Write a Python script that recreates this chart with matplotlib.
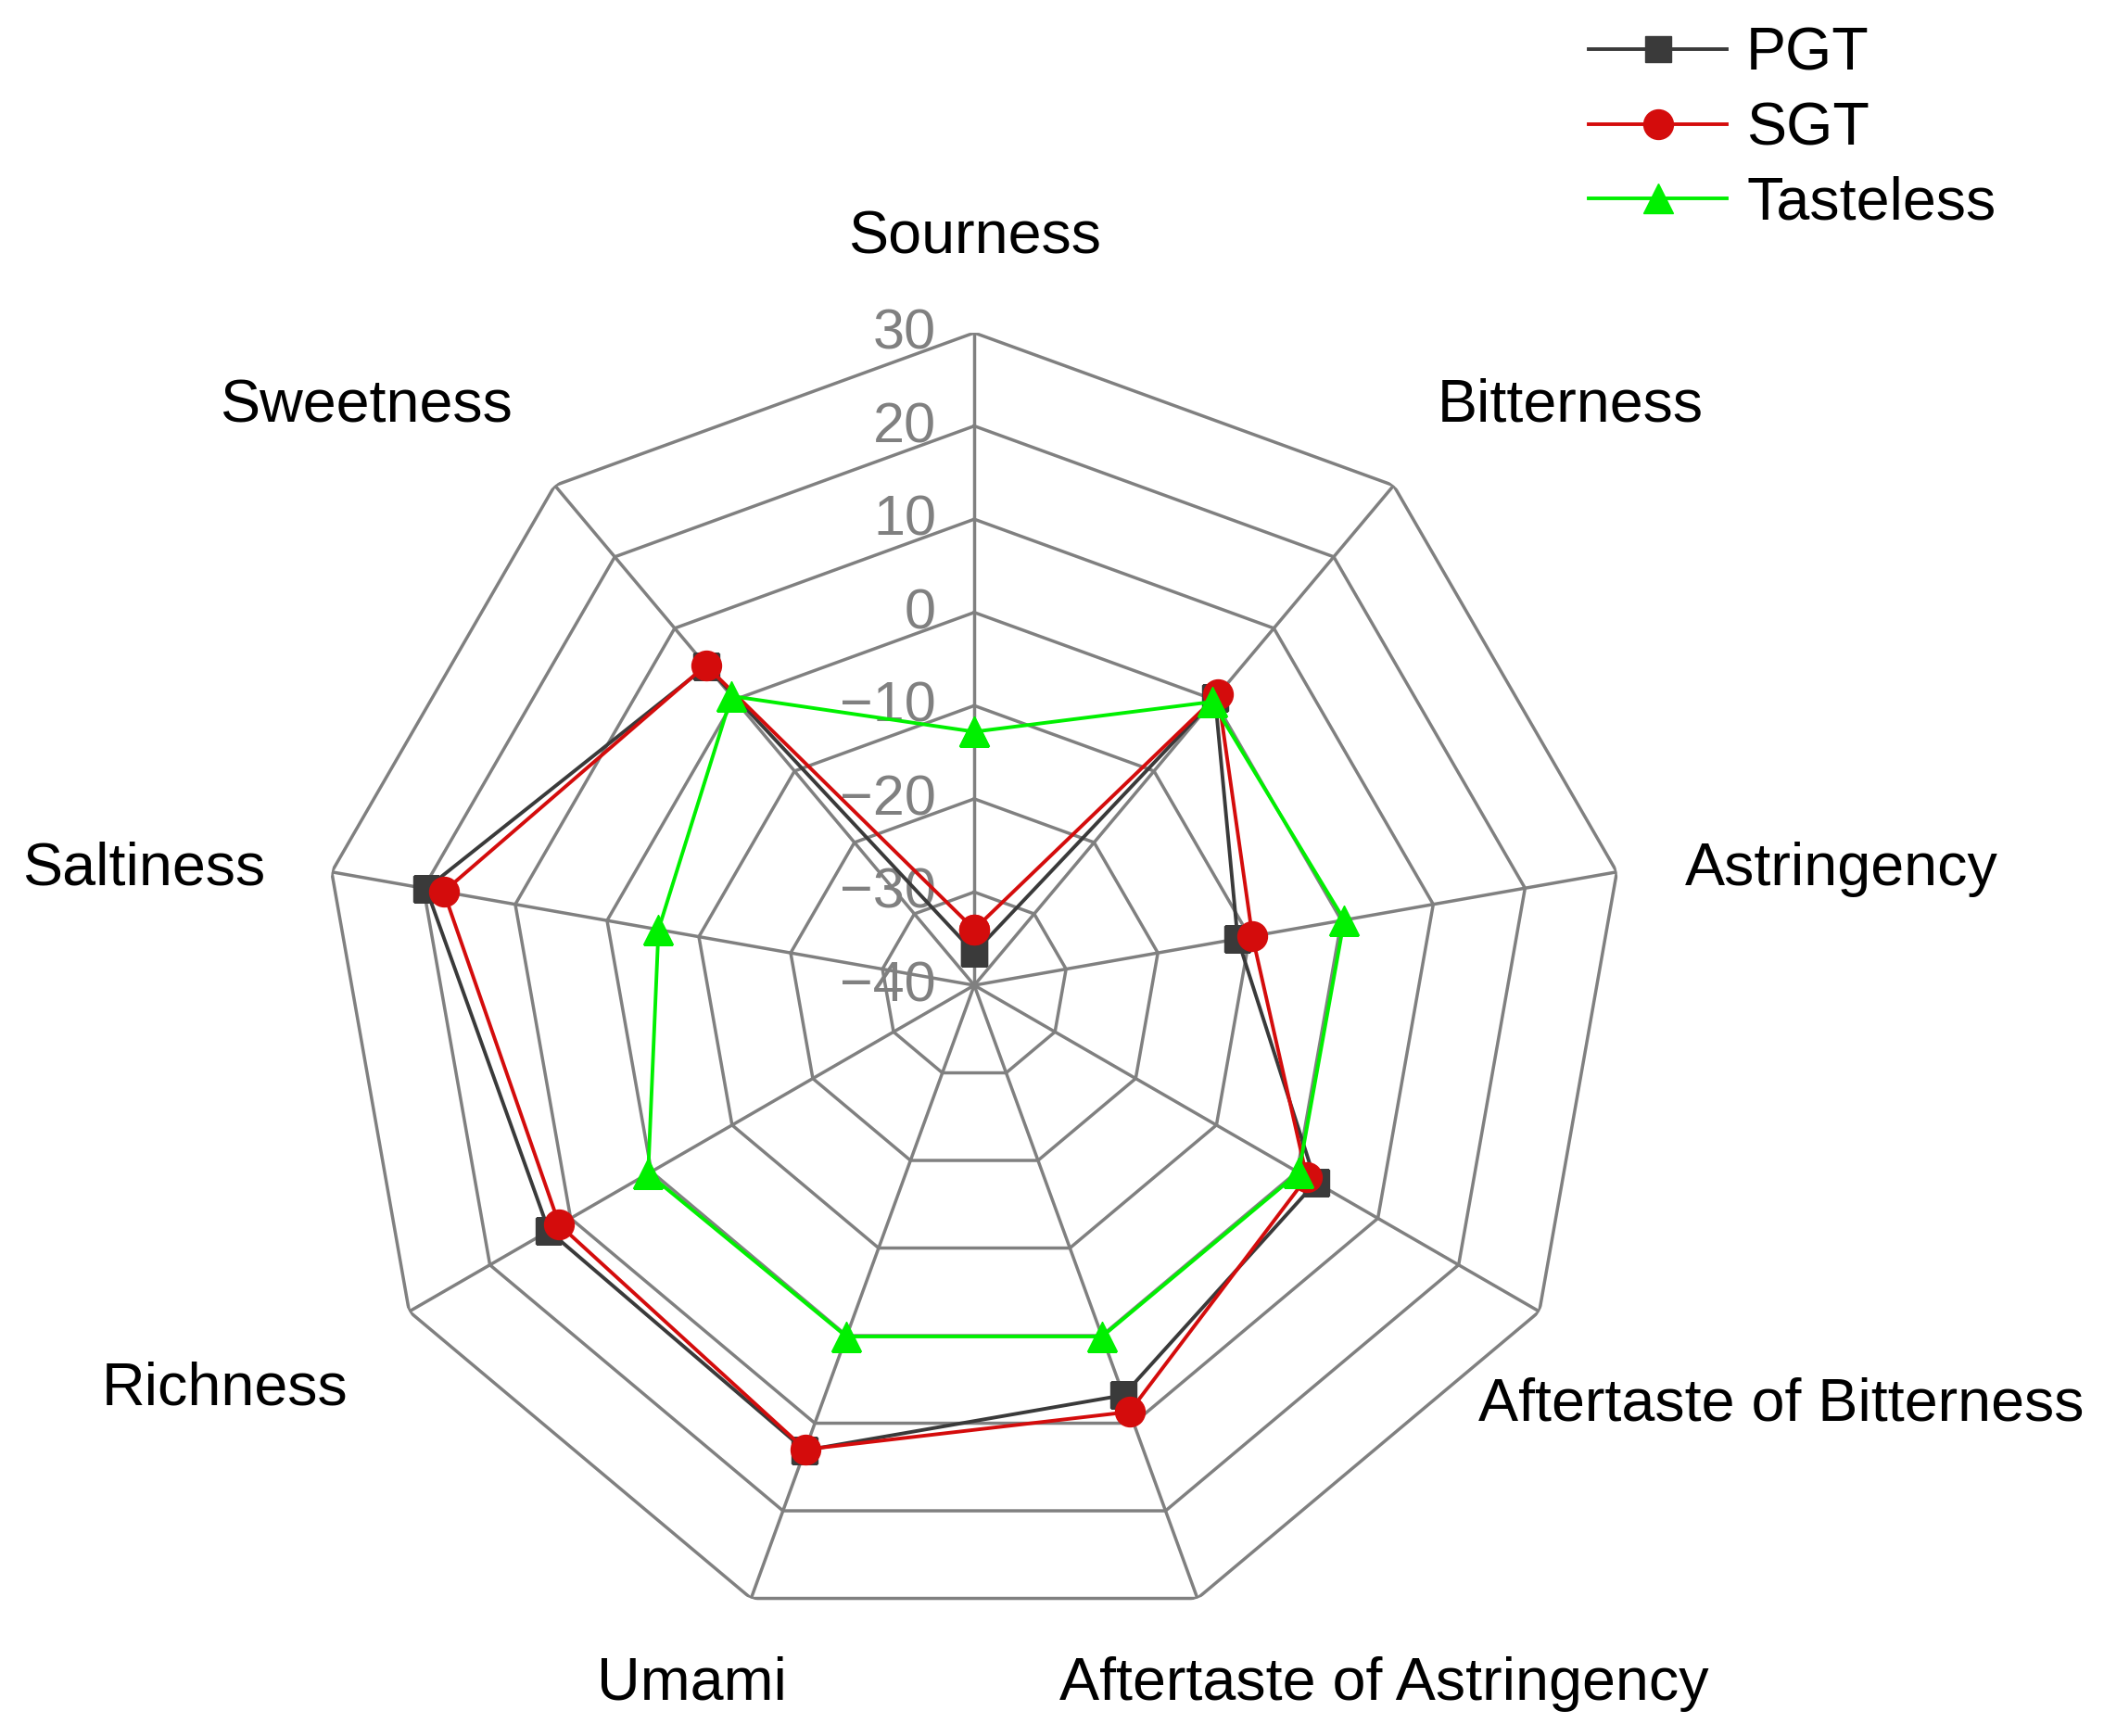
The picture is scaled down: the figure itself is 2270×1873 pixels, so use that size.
import numpy as np
import matplotlib.pyplot as plt
from matplotlib.transforms import ScaledTranslation

# taste attributes, clockwise from the top
categories = ['Sourness', 'Bitterness', 'Astringency', 'Aftertaste of Bitterness',
              'Aftertaste of Astringency', 'Umami', 'Richness', 'Saltiness', 'Sweetness']
pgt = [-36.5, 0.2, -11.3, 2.3, 6.8, 13.1, 12.7, 19.7, 4.7]
sgt = [-34.0, 0.7, -9.7, 1.2, 8.7, 13.0, 11.4, 17.8, 4.8]
tasteless = [-12.8, -0.3, 0.3, 0.2, 0.1, 0.1, 0.4, -5.6, 0.5]
tick_values = [30, 20, 10, 0, -10, -20, -30, -40]

# where each category label sits (angle in degrees, radius in data units)
label_pos = [(0, 40.9), (45.5, 49.7), (82.0, 54.0), (117.1, 57.2), (149.4, 46.3),
             (202.2, 40.2), (242.1, 51.0), (278.4, 50.1), (313.9, 50.6)]

plt.rcParams['font.family'] = ['Liberation Sans', 'DejaVu Sans']

fig = plt.figure(figsize=(22.7, 18.73), dpi=100)
ax = fig.add_axes([0.1529, 0.0566, 0.6203, 0.7517], projection='polar')
ax.set_theta_zero_location('N')
ax.set_theta_direction(-1)
ax.set_ylim(-40, 30)
ax.grid(False)
ax.set_xticks([])
ax.set_yticks([])
ax.spines['polar'].set_visible(False)
ax.patch.set_visible(False)

angles = np.linspace(0, 2 * np.pi, len(categories), endpoint=False)
closed = np.append(angles, angles[0])

grid_color = '#808080'
for v in tick_values[:-1]:
    ax.plot(closed, [v] * len(closed), color=grid_color, lw=2.5, zorder=1)
for a in angles:
    ax.plot([a, a], [-40, 30], color=grid_color, lw=2.5, zorder=1)

shift = ax.transData + ScaledTranslation(-0.41, -0.02, fig.dpi_scale_trans)
for v in tick_values:
    ax.text(0, v, str(v).replace('-', '\u2212'), transform=shift, ha='right',
            va='center', fontsize=44, color=grid_color, zorder=2)

down = ax.transData + ScaledTranslation(0, -0.07, fig.dpi_scale_trans)
for name, (deg, r) in zip(categories, label_pos):
    ax.text(np.deg2rad(deg), r, name, transform=down, ha='center', va='center',
            fontsize=46.5, color='black', clip_on=False)

ax.plot(closed, pgt + pgt[:1], color='#3a3a3a', lw=2.8, marker='s', ms=20,
        label='PGT', zorder=3)
ax.plot(closed, sgt + sgt[:1], color='#d40c0c', lw=2.8, marker='o', ms=23,
        label='SGT', zorder=4)
ax.plot(closed, tasteless + tasteless[:1], color='#00f000', lw=2.8, marker='^', ms=23,
        label='Tasteless', zorder=5)

fig.legend(loc='upper left', bbox_to_anchor=(0.741, 1.002), frameon=False, fontsize=46.5,
           handlelength=2.3, handletextpad=0.33, labelspacing=0.32, borderpad=0.0)

fig.savefig('out.png', dpi=100, facecolor='white')
